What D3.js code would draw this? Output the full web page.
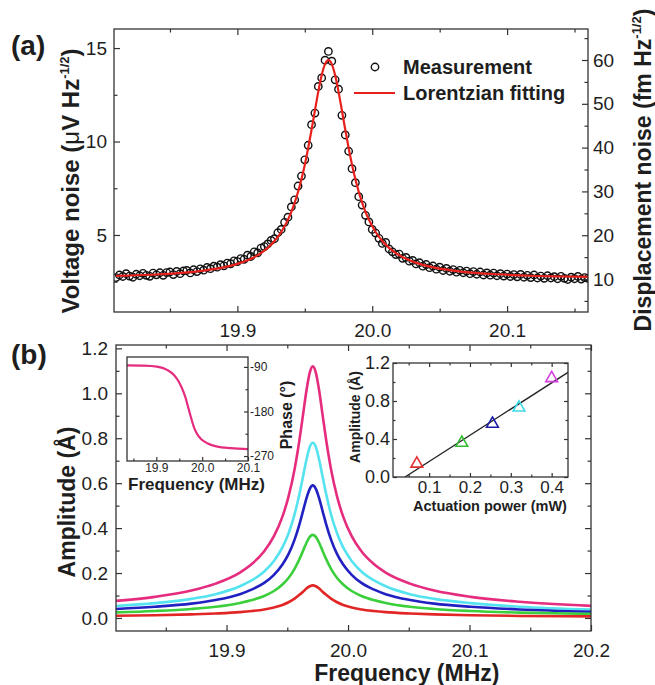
<!DOCTYPE html>
<html>
<head>
<meta charset="utf-8">
<script src="https://cdn.jsdelivr.net/npm/d3@7"></script>
<style>
  body { margin: 0; background: #fff; }
  text { font-family: "Liberation Sans", Arial, sans-serif; fill: #1e1e1e; }
</style>
</head>
<body>
<svg id="chart" width="655" height="685"></svg>
<script>
// ---------- panel (a): thermal noise spectrum ----------
var sweepStart = 19.81, sweepStep = 0.0025;
var measuredNoise = [
  2.72, 2.86, 2.78, 2.93, 2.80, 2.74, 2.90, 2.82, 2.95, 2.84,
  2.79, 2.96, 2.87, 2.98, 2.84, 2.99, 3.02, 2.88, 3.05, 2.93,
  3.08, 3.10, 2.97, 3.14, 3.04, 3.19, 3.12, 3.26, 3.20, 3.33,
  3.28, 3.41, 3.35, 3.50, 3.46, 3.62, 3.58, 3.74, 3.70, 3.92,
  3.85, 4.10, 4.04, 4.30, 4.38, 4.52, 4.71, 4.80, 5.12, 5.30,
  5.68, 5.95, 6.50, 6.88, 7.62, 8.15, 9.02, 9.80, 10.90, 11.52,
  12.95, 13.40, 14.35,
  14.82,
  14.30, 13.30, 12.80, 11.40, 10.35, 9.48, 8.55, 7.80, 7.05, 6.60,
  6.05, 5.70, 5.30, 5.10, 4.82, 4.55, 4.60, 4.25, 4.10, 3.95,
  3.98, 3.75, 3.80, 3.60, 3.64, 3.45, 3.52, 3.33, 3.42, 3.25,
  3.34, 3.17, 3.28, 3.10, 3.21, 3.06, 3.15, 3.01, 3.11, 2.98,
  3.07, 2.93, 3.04, 2.90, 3.02, 2.86, 2.97, 2.85, 2.96, 2.82,
  2.93, 2.80, 2.91, 2.78, 2.88, 2.76, 2.89, 2.74, 2.84, 2.72,
  2.86, 2.70, 2.80, 2.68, 2.82, 2.70, 2.77, 2.66, 2.79, 2.68,
  2.62, 2.74, 2.66, 2.78, 2.64, 2.72, 2.68
];
var fitFreq = [19.81, 19.8425, 19.8675, 19.8825, 19.8975, 19.9075, 19.9175, 19.9225, 19.9275, 19.9325,
  19.9375, 19.94, 19.9425, 19.945, 19.9475, 19.95, 19.9525, 19.955, 19.9575, 19.96, 19.9625, 19.965,
  19.9675,
  19.97, 19.9725, 19.975, 19.9775, 19.98, 19.9825, 19.985, 19.9875, 19.99, 19.9925, 19.995, 19.9975,
  20.0025, 20.0075, 20.0125, 20.0175, 20.0275, 20.0375, 20.0525, 20.0675, 20.0925, 20.1175, 20.1425, 20.16];
var fitNoise = [2.81, 2.90, 3.03, 3.17, 3.40, 3.65, 4.03, 4.31, 4.68, 5.16,
  5.82, 6.24, 6.73, 7.31, 7.98, 8.76, 9.65, 10.63, 11.66, 12.67, 13.54, 14.14,
  14.35,
  14.14, 13.54, 12.67, 11.66, 10.63, 9.65, 8.76, 7.98, 7.31, 6.73, 6.24, 5.82,
  5.16, 4.68, 4.31, 4.03, 3.65, 3.40, 3.17, 3.03, 2.90, 2.82, 2.78, 2.755];
var freqTicksA = [19.9, 20.0, 20.1];
var voltTicks = [5, 10, 15];
var dispTicks = [10, 20, 30, 40, 50, 60];

// ---------- panel (b): driven response ----------
var ampFreq = [19.809, 19.841, 19.871, 19.891, 19.911, 19.921, 19.931, 19.939, 19.946, 19.951,
  19.956, 19.960, 19.963, 19.966, 19.9685, 19.971, 19.9735, 19.976, 19.979, 19.982, 19.986,
  19.991, 19.996, 20.003, 20.011, 20.021, 20.031, 20.051, 20.071, 20.101, 20.141, 20.2];
var ampPink = [0.076, 0.094, 0.122, 0.153, 0.202, 0.241, 0.297, 0.364, 0.451, 0.540, 0.662, 0.792,
  0.906, 1.020, 1.092, 1.12, 1.092, 1.020, 0.906, 0.792, 0.662, 0.540, 0.451, 0.364, 0.297, 0.241,
  0.202, 0.153, 0.122, 0.094, 0.072, 0.054];
var ampCyan = [0.053, 0.066, 0.085, 0.106, 0.141, 0.168, 0.207, 0.254, 0.314, 0.376, 0.461, 0.552,
  0.631, 0.710, 0.761, 0.78, 0.761, 0.710, 0.631, 0.552, 0.461, 0.376, 0.314, 0.254, 0.207, 0.168,
  0.141, 0.106, 0.085, 0.066, 0.050, 0.037];
var ampBlue = [0.040, 0.050, 0.064, 0.080, 0.106, 0.127, 0.156, 0.192, 0.238, 0.284, 0.349, 0.417,
  0.477, 0.537, 0.575, 0.59, 0.575, 0.537, 0.477, 0.417, 0.349, 0.284, 0.238, 0.192, 0.156, 0.127,
  0.106, 0.080, 0.064, 0.050, 0.038, 0.028];
var ampGreen = [0.025, 0.031, 0.040, 0.050, 0.067, 0.080, 0.098, 0.120, 0.149, 0.178, 0.219, 0.262,
  0.299, 0.337, 0.361, 0.37, 0.361, 0.337, 0.299, 0.262, 0.219, 0.178, 0.149, 0.120, 0.098, 0.080,
  0.067, 0.050, 0.040, 0.031, 0.024, 0.018];
var ampRed = [0.010, 0.012, 0.016, 0.020, 0.026, 0.031, 0.038, 0.047, 0.058, 0.070, 0.086, 0.103,
  0.117, 0.132, 0.141, 0.145, 0.141, 0.132, 0.117, 0.103, 0.086, 0.070, 0.058, 0.047, 0.038, 0.031,
  0.026, 0.020, 0.016, 0.012, 0.009, 0.007];
var freqTicksB = [19.9, 20.0, 20.1, 20.2];
var ampTicks = [0, 0.2, 0.4, 0.6, 0.8, 1.0, 1.2];

// phase inset
var phaseFreq = [19.836, 19.872, 19.9015, 19.9235, 19.938, 19.949, 19.956, 19.964, 19.969,
  19.975, 19.981, 19.988, 19.998, 20.011, 20.033, 20.063, 20.1];
var phaseDeg = [-87, -87.5, -89.5, -96, -106, -120, -133, -153, -170, -190, -209, -224, -236,
  -244, -251, -254, -256];
var phaseTicks = [-90, -180, -270];
var phaseFreqTicks = [19.9, 20.0, 20.1];

// amplitude vs actuation power inset
var powerMW = [0.07, 0.18, 0.255, 0.32, 0.40];
var peakAmp = [0.14, 0.36, 0.56, 0.73, 1.04];
var linePower = [0.041, 0.45];
var lineAmp = [0, 1.129];
var powerTicks = [0.1, 0.2, 0.3, 0.4];
var powerAmpTicks = [0, 0.4, 0.8, 1.2];

var curveColors = ["#e52c7e", "#55e3f0", "#2121c2", "#3ccf3c", "#e22626"];
var triColors = ["#e03030", "#33bb33", "#1c1ca8", "#3fd9e8", "#d43ee0"];

var svg = d3.select("#chart");

// layout of the four plotting boxes
var A = {left: 114, right: 588, top: 29, bottom: 312};
var B = {left: 116, right: 591, top: 345, bottom: 631};
var P = {left: 127, right: 248, top: 357, bottom: 461};
var Q = {left: 393, right: 568, top: 363, bottom: 477};

var xA = d3.scaleLinear([19.8085, 20.16], [A.left, A.right]);
var yA = d3.scaleLinear([0.88, 16.02], [A.bottom, A.top]);
var yA2 = d3.scaleLinear([2.47, 67.08], [A.bottom, A.top]);
var xB = d3.scaleLinear([19.809, 20.2], [B.left, B.right]);
var yB = d3.scaleLinear([-0.058, 1.215], [B.bottom, B.top]);
var xP = d3.scaleLinear([19.836, 20.1], [P.left, P.right]);
var yP = d3.scaleLinear([-280, -70], [P.bottom, P.top]);
var xQ = d3.scaleLinear([0.0116, 0.44], [Q.left, Q.right]);
var yQ = d3.scaleLinear([0, 1.2], [Q.bottom, Q.top]);

var axes = {bottom: d3.axisBottom, top: d3.axisTop, left: d3.axisLeft, right: d3.axisRight};

function place(side, pos) {
  return (side == "bottom" || side == "top") ? "translate(0," + pos + ")" : "translate(" + pos + ",0)";
}

// inward pointing ticks, no labels
function drawTicks(side, scale, values, len, pos) {
  var a = svg.append("g").attr("transform", place(side, pos))
    .call(axes[side](scale).tickValues(values).tickSize(-len).tickFormat(""));
  a.select(".domain").remove();
  a.selectAll("line").attr("stroke", "#333").attr("stroke-width", 1.2);
}

function drawLabels(side, scale, values, fmt, pad, size, pos) {
  var a = svg.append("g").attr("transform", place(side, pos))
    .call(axes[side](scale).tickValues(values).tickSize(0).tickPadding(pad).tickFormat(fmt));
  a.attr("font-size", null).attr("font-family", null);
  a.select(".domain").remove();
  a.selectAll("text").attr("font-size", size);
}

function frame(box) {
  svg.append("rect")
    .attr("x", box.left).attr("y", box.top)
    .attr("width", box.right - box.left).attr("height", box.bottom - box.top)
    .attr("fill", "none").attr("stroke", "#333").attr("stroke-width", 1.3);
}

function clip(id, box) {
  svg.append("clipPath").attr("id", id).append("rect")
    .attr("x", box.left).attr("y", box.top)
    .attr("width", box.right - box.left).attr("height", box.bottom - box.top);
}

var f1 = d3.format(".1f");
var plain = function(d) { return String(d); };

// ================= panel (a) =================
clip("clipA", A);
var gA = svg.append("g").attr("clip-path", "url(#clipA)");

gA.selectAll("circle.meas")
  .data(measuredNoise)
  .enter()
  .append("circle")
  .attr("class", "meas")
  .attr("cx", function(d, i) { return xA(sweepStart + i * sweepStep); })
  .attr("cy", function(d) { return yA(d); })
  .attr("r", 3.7)
  .attr("fill", "none")
  .attr("stroke", "#111")
  .attr("stroke-width", 1.4);

var fitLine = d3.line()
  .x(function(d, i) { return xA(fitFreq[i]); })
  .y(function(d) { return yA(d); })
  .curve(d3.curveMonotoneX);

gA.append("path")
  .attr("d", fitLine(fitNoise))
  .attr("fill", "none")
  .attr("stroke", "#e8201c")
  .attr("stroke-width", 2.2);

frame(A);
drawTicks("bottom", xA, freqTicksA, 6, A.bottom);
drawTicks("bottom", xA, [19.85, 19.95, 20.05, 20.15], 3.5, A.bottom);
drawTicks("top", xA, freqTicksA, 6, A.top);
drawTicks("top", xA, [19.85, 19.95, 20.05, 20.15], 3.5, A.top);
drawTicks("left", yA, voltTicks, 6, A.left);
drawTicks("left", yA, [2.5, 7.5, 12.5], 3.5, A.left);
drawTicks("right", yA2, dispTicks, 6, A.right);
drawTicks("right", yA2, [5, 15, 25, 35, 45, 55, 65], 3.5, A.right);

drawLabels("bottom", xA, freqTicksA, f1, 12, 19, A.bottom);
drawLabels("left", yA, voltTicks, plain, 7, 19, A.left);
drawLabels("right", yA2, dispTicks, plain, 5, 19, A.right);

// legend
svg.append("circle").attr("cx", 375).attr("cy", 67).attr("r", 3.7)
  .attr("fill", "none").attr("stroke", "#111").attr("stroke-width", 1.4);
svg.append("text").attr("x", 403).attr("y", 74).attr("font-size", 20)
  .attr("font-weight", "bold").text("Measurement");
svg.append("line").attr("x1", 354).attr("x2", 395).attr("y1", 93).attr("y2", 93)
  .attr("stroke", "#e8201c").attr("stroke-width", 2.2);
svg.append("text").attr("x", 403).attr("y", 100).attr("font-size", 20)
  .attr("font-weight", "bold").text("Lorentzian fitting");

// axis titles of (a)
var tl = svg.append("text")
  .attr("transform", "translate(79,181) rotate(-90)")
  .attr("text-anchor", "middle").attr("font-size", 24).attr("font-weight", "bold");
tl.append("tspan").text("Voltage noise (");
tl.append("tspan").attr("font-weight", "normal").text("\u03bc");
tl.append("tspan").text("V Hz");
tl.append("tspan").attr("font-size", 13).attr("dy", -10).text("-1/2");
tl.append("tspan").attr("dy", 10).text(")");

var tr = svg.append("text")
  .attr("transform", "translate(651,170) rotate(-90)")
  .attr("text-anchor", "middle").attr("font-size", 23).attr("font-weight", "bold");
tr.append("tspan").text("Displacement noise (fm Hz");
tr.append("tspan").attr("font-size", 13).attr("dy", -10).text("-1/2");
tr.append("tspan").attr("dy", 10).text(")");

svg.append("text").attr("x", 11).attr("y", 55).attr("font-size", 28)
  .attr("font-weight", "bold").text("(a)");

// ================= panel (b) =================
clip("clipB", B);
var gB = svg.append("g").attr("clip-path", "url(#clipB)");
var ampLine = d3.line()
  .x(function(d, i) { return xB(ampFreq[i]); })
  .y(function(d) { return yB(d); })
  .curve(d3.curveMonotoneX);

[ampPink, ampCyan, ampBlue, ampGreen, ampRed].forEach(function(series, i) {
  gB.append("path")
    .attr("d", ampLine(series))
    .attr("fill", "none")
    .attr("stroke", curveColors[i])
    .attr("stroke-width", 2.6);
});

frame(B);
drawTicks("bottom", xB, freqTicksB, 6, B.bottom);
drawTicks("bottom", xB, [19.85, 19.95, 20.05, 20.15], 3.5, B.bottom);
drawTicks("top", xB, freqTicksB, 6, B.top);
drawTicks("top", xB, [19.85, 19.95, 20.05, 20.15], 3.5, B.top);
drawTicks("left", yB, ampTicks, 6, B.left);
drawTicks("left", yB, [0.1, 0.3, 0.5, 0.7, 0.9, 1.1], 3.5, B.left);
drawTicks("right", yB, ampTicks, 6, B.right);
drawTicks("right", yB, [0.1, 0.3, 0.5, 0.7, 0.9, 1.1], 3.5, B.right);

drawLabels("bottom", xB, freqTicksB, f1, 13, 19, B.bottom);
drawLabels("left", yB, ampTicks, f1, 8, 19, B.left);

svg.append("text").attr("x", xB(20.05) - 2).attr("y", 681)
  .attr("text-anchor", "middle").attr("font-size", 23).attr("font-weight", "bold")
  .text("Frequency (MHz)");
svg.append("text").attr("transform", "translate(75,502) rotate(-90)")
  .attr("text-anchor", "middle").attr("font-size", 23).attr("font-weight", "bold")
  .text("Amplitude (\u00c5)");
svg.append("text").attr("x", 11).attr("y", 364).attr("font-size", 28)
  .attr("font-weight", "bold").text("(b)");

// ---- phase inset ----
svg.append("rect").attr("x", P.left).attr("y", P.top)
  .attr("width", P.right - P.left).attr("height", P.bottom - P.top).attr("fill", "#fff");
var phaseLine = d3.line()
  .x(function(d, i) { return xP(phaseFreq[i]); })
  .y(function(d) { return yP(d); })
  .curve(d3.curveMonotoneX);
svg.append("path").attr("d", phaseLine(phaseDeg))
  .attr("fill", "none").attr("stroke", "#e52c7e").attr("stroke-width", 2.2);
frame(P);
drawTicks("bottom", xP, phaseFreqTicks, 4, P.bottom);
drawTicks("bottom", xP, [19.85, 19.95, 20.05], 2.5, P.bottom);
drawTicks("right", yP, phaseTicks, 4, P.right);
drawTicks("right", yP, [-135, -225], 2.5, P.right);
drawLabels("bottom", xP, phaseFreqTicks, f1, 2, 12, P.bottom);
drawLabels("right", yP, phaseTicks, plain, 2, 12, P.right);
svg.append("text").attr("x", (P.left + P.right) / 2 + 9).attr("y", 490)
  .attr("text-anchor", "middle").attr("font-size", 17).attr("font-weight", "bold")
  .text("Frequency (MHz)");
svg.append("text").attr("transform", "translate(292,415) rotate(-90)")
  .attr("text-anchor", "middle").attr("font-size", 16).attr("font-weight", "bold")
  .text("Phase (\u00b0)");

// ---- amplitude vs power inset ----
clip("clipQ", Q);
svg.append("rect").attr("x", Q.left).attr("y", Q.top)
  .attr("width", Q.right - Q.left).attr("height", Q.bottom - Q.top).attr("fill", "#fff");
svg.append("g").attr("clip-path", "url(#clipQ)")
  .append("line")
  .attr("x1", xQ(linePower[0])).attr("y1", yQ(lineAmp[0]))
  .attr("x2", xQ(linePower[1])).attr("y2", yQ(lineAmp[1]))
  .attr("stroke", "#222").attr("stroke-width", 1.3);
svg.selectAll("path.tri")
  .data(powerMW)
  .enter()
  .append("path")
  .attr("class", "tri")
  .attr("d", d3.symbol(d3.symbolTriangle, 60))
  .attr("transform", function(d, i) { return "translate(" + xQ(d) + "," + yQ(peakAmp[i]) + ")"; })
  .attr("fill", "none")
  .attr("stroke", function(d, i) { return triColors[i]; })
  .attr("stroke-width", 1.6);
frame(Q);
drawTicks("bottom", xQ, powerTicks, 4, Q.bottom);
drawTicks("bottom", xQ, [0.05, 0.15, 0.25, 0.35], 2.5, Q.bottom);
drawTicks("top", xQ, powerTicks, 4, Q.top);
drawTicks("top", xQ, [0.05, 0.15, 0.25, 0.35], 2.5, Q.top);
drawTicks("left", yQ, powerAmpTicks, 4, Q.left);
drawTicks("left", yQ, [0.2, 0.6, 1.0], 2.5, Q.left);
drawTicks("right", yQ, powerAmpTicks, 4, Q.right);
drawTicks("right", yQ, [0.2, 0.6, 1.0], 2.5, Q.right);
drawLabels("bottom", xQ, powerTicks, f1, 4, 17, Q.bottom);
drawLabels("left", yQ, powerAmpTicks, f1, 3, 18, Q.left);
svg.append("text").attr("x", 490).attr("y", 511)
  .attr("text-anchor", "middle").attr("font-size", 14.5).attr("font-weight", "bold")
  .text("Actuation power (mW)");
svg.append("text").attr("transform", "translate(360,417) rotate(-90)")
  .attr("text-anchor", "middle").attr("font-size", 14).attr("font-weight", "bold")
  .text("Amplitude (\u00c5)");
</script>
</body>
</html>
